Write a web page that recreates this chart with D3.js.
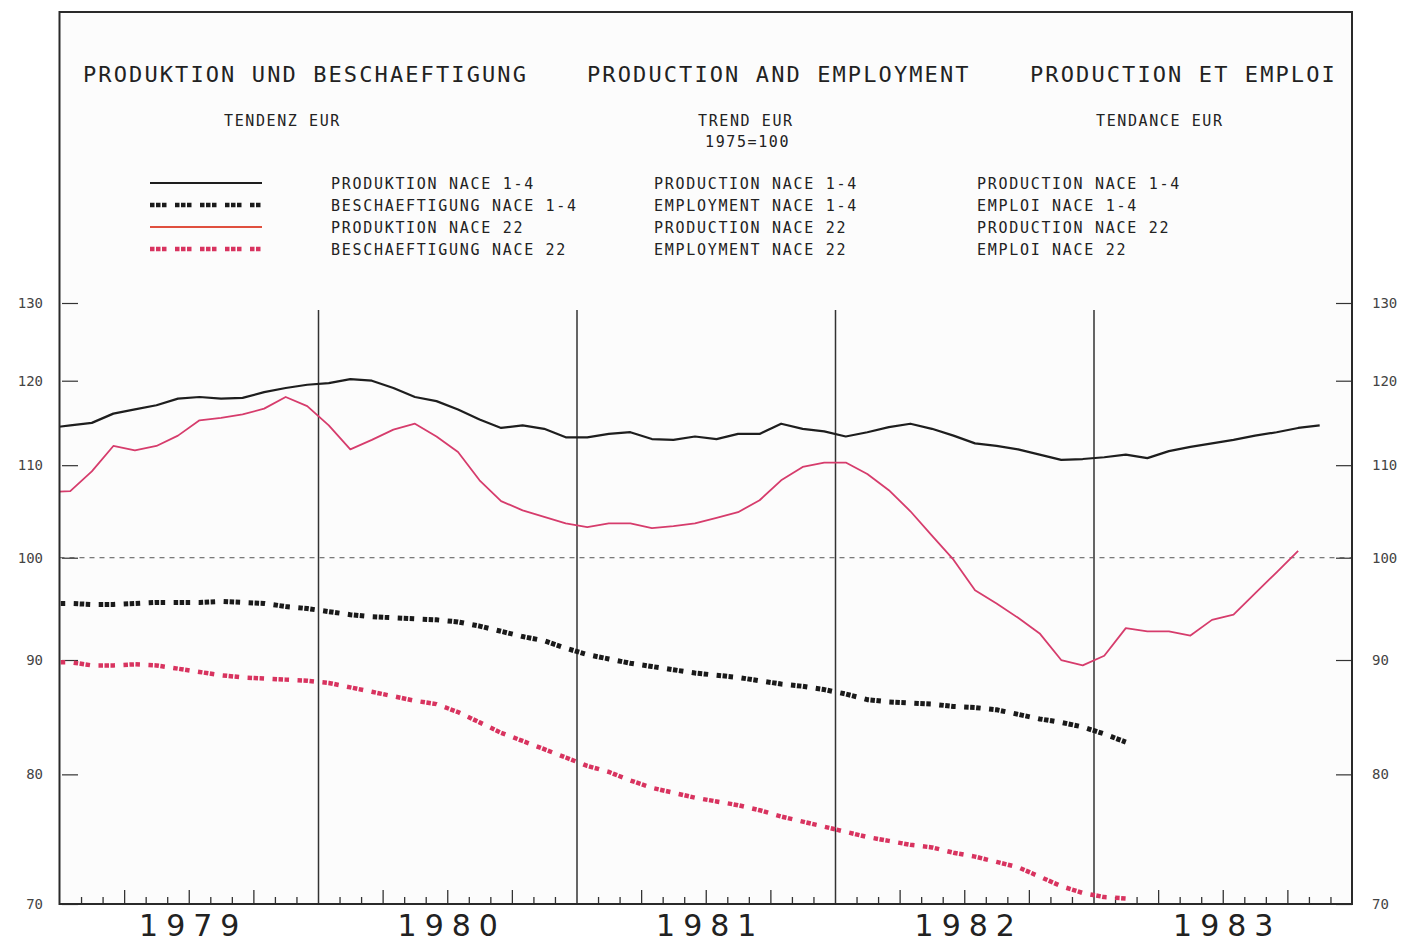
<!DOCTYPE html>
<html>
<head>
<meta charset="utf-8">
<script src="https://cdn.jsdelivr.net/npm/d3@7/dist/d3.min.js"></script>
<style>
  body { margin: 0; background: #fff; }
  svg text { font-family: "DejaVu Sans Mono", monospace; fill: #222; }
</style>
</head>
<body>
<svg id="chart" width="1403" height="946"></svg>
<script>
// monthly values, first entry = Dec 1978 (starts at the frame edge)
var years = ["1979", "1980", "1981", "1982", "1983"];
var yTicks = [70, 80, 90, 100, 110, 120, 130];

var prod14 = [114.3,
  114.6, 114.9, 116.0, 116.5, 117.0, 117.8, 118.0, 117.8, 117.9, 118.6, 119.1, 119.5,
  119.7, 120.2, 120.0, 119.1, 118.0, 117.5, 116.5, 115.3, 114.3, 114.6, 114.2, 113.2,
  113.2, 113.6, 113.8, 113.0, 112.9, 113.3, 113.0, 113.6, 113.6, 114.8, 114.2, 113.9,
  113.3, 113.8, 114.4, 114.8, 114.2, 113.4, 112.5, 112.2, 111.8, 111.2, 110.6, 110.7,
  110.9, 111.2, 110.8, 111.6, 112.1, 112.5, 112.9, 113.4, 113.8, 114.3, 114.6];

var empl14 = [95.4,
  95.4, 95.3, 95.3, 95.4, 95.5, 95.5, 95.5, 95.6, 95.5, 95.4, 95.1, 94.9,
  94.6, 94.3, 94.1, 94.0, 93.9, 93.8, 93.6, 93.2, 92.7, 92.2, 91.8, 91.1,
  90.5, 90.1, 89.7, 89.4, 89.1, 88.8, 88.6, 88.4, 88.1, 87.8, 87.6, 87.3,
  86.9, 86.4, 86.2, 86.1, 86.0, 85.8, 85.7, 85.5, 85.1, 84.7, 84.4, 84.0,
  83.4, 82.7];

var prod22 = [107.0,
  107.1, 109.3, 112.2, 111.7, 112.2, 113.4, 115.2, 115.5, 115.9, 116.6, 118.0, 116.9,
  114.6, 111.8, 112.9, 114.1, 114.8, 113.3, 111.5, 108.3, 106.0, 105.0, 104.3, 103.6,
  103.2, 103.6, 103.6, 103.1, 103.3, 103.6, 104.2, 104.8, 106.1, 108.3, 109.8, 110.3,
  110.3, 109.0, 107.2, 104.9, 102.3, 99.8, 96.7, 95.4, 94.0, 92.5, 90.0, 89.5,
  90.4, 93.0, 92.7, 92.7, 92.3, 93.8, 94.3, 96.4, 98.5, 100.7];

var empl22 = [89.8,
  89.8, 89.5, 89.5, 89.6, 89.5, 89.2, 88.9, 88.6, 88.4, 88.3, 88.2, 88.1,
  87.9, 87.5, 87.1, 86.7, 86.3, 86.0, 85.3, 84.4, 83.5, 82.8, 82.1, 81.4,
  80.7, 80.2, 79.5, 78.9, 78.5, 78.1, 77.8, 77.5, 77.1, 76.6, 76.2, 75.8,
  75.4, 75.0, 74.7, 74.4, 74.2, 73.8, 73.5, 73.1, 72.7, 72.0, 71.3, 70.8,
  70.5, 70.4];

var legendDe = ["PRODUKTION NACE 1-4", "BESCHAEFTIGUNG NACE 1-4", "PRODUKTION NACE 22", "BESCHAEFTIGUNG NACE 22"];
var legendEn = ["PRODUCTION NACE 1-4", "EMPLOYMENT NACE 1-4", "PRODUCTION NACE 22", "EMPLOYMENT NACE 22"];
var legendFr = ["PRODUCTION NACE 1-4", "EMPLOI NACE 1-4", "PRODUCTION NACE 22", "EMPLOI NACE 22"];

(function () {
    var svg = d3.select("#chart");
    var left = 59.5, right = 1352, plotTop = 12, bottom = 904;

    var x = d3.scaleLinear().domain([0, 60]).range([left, right]);
    var y = d3.scaleLog().domain([70, 130]).range([bottom, 303]);

    var dotDash = "4.5,1.5,4.5,1.5,4.5,8.5";
    var styles = [
        {data: prod14, color: "#1e1e1e", width: 2.2, dash: null},
        {data: empl14, color: "#1a1a1a", width: 5, dash: dotDash},
        {data: prod22, color: "#d63c6c", width: 1.8, dash: null, legendColor: "#e0503e"},
        {data: empl22, color: "#d8335f", width: 4.5, dash: dotDash}
    ];

    svg.append("rect")
        .attr("x", left).attr("y", plotTop)
        .attr("width", right - left).attr("height", bottom - plotTop)
        .attr("fill", "#fcfcfc");

    svg.append("defs").append("clipPath").attr("id", "plot")
        .append("rect")
        .attr("x", left).attr("y", plotTop)
        .attr("width", right - left).attr("height", bottom - plotTop);

    // titles
    var titles = [
        {t: "PRODUKTION UND BESCHAEFTIGUNG", x: 83},
        {t: "PRODUCTION AND EMPLOYMENT", x: 587},
        {t: "PRODUCTION ET EMPLOI", x: 1030}
    ];
    svg.selectAll(".title").data(titles).enter().append("text")
        .attr("x", function (d) { return d.x; })
        .attr("y", 82)
        .style("font-size", "22px")
        .style("letter-spacing", "2.1px")
        .text(function (d) { return d.t; });

    var subs = [
        {t: "TENDENZ EUR", x: 224, y: 126},
        {t: "TREND EUR", x: 698, y: 126},
        {t: "1975=100", x: 705, y: 147},
        {t: "TENDANCE EUR", x: 1096, y: 126}
    ];
    svg.selectAll(".sub").data(subs).enter().append("text")
        .attr("x", function (d) { return d.x; })
        .attr("y", function (d) { return d.y; })
        .style("font-size", "15px")
        .style("letter-spacing", "1.6px")
        .text(function (d) { return d.t; });

    // legend
    var legendY = [183, 205, 227, 249];
    var swatch = d3.line().x(function (d) { return d; }).y(0);
    styles.forEach(function (s, i) {
        svg.append("path")
            .attr("transform", "translate(0," + legendY[i] + ")")
            .attr("d", swatch([150, 262]))
            .attr("fill", "none")
            .attr("stroke", s.legendColor || s.color)
            .attr("stroke-width", s.dash ? 4.5 : 2)
            .attr("stroke-dasharray", s.dash);
    });
    [[legendDe, 331], [legendEn, 654], [legendFr, 977]].forEach(function (col) {
        svg.selectAll(null).data(col[0]).enter().append("text")
            .attr("x", col[1])
            .attr("y", function (d, i) { return legendY[i] + 6; })
            .style("font-size", "15px")
            .style("letter-spacing", "1.7px")
            .text(function (d) { return d; });
    });

    // month ticks on the bottom line, quarters longer, years run up the plot
    var months = d3.range(1, 60);
    function ticksUp(values, size) {
        var g = svg.append("g")
            .attr("transform", "translate(0," + bottom + ")")
            .call(d3.axisTop(x).tickValues(values).tickSize(size).tickFormat(""));
        g.select(".domain").remove();
        g.selectAll("line").attr("stroke", "#333").attr("stroke-width", 1.3);
        return g;
    }
    ticksUp(months.filter(function (m) { return m % 3 !== 0; }), 7);
    ticksUp(months.filter(function (m) { return m % 3 === 0 && m % 12 !== 0; }), 14);
    ticksUp(months.filter(function (m) { return m % 12 === 0; }), bottom - 310)
        .selectAll("line").attr("stroke-width", 1.5);

    var yearAxis = svg.append("g")
        .attr("transform", "translate(0," + bottom + ")")
        .call(d3.axisBottom(x).tickValues([6, 18, 30, 42, 54]).tickSize(0).tickPadding(11)
            .tickFormat(function (d, i) { return years[i]; }));
    yearAxis.select(".domain").remove();
    yearAxis.selectAll("text")
        .attr("dx", 4)
        .style("font-family", "'DejaVu Sans', sans-serif")
        .style("font-size", "30px")
        .style("letter-spacing", "8px")
        .style("fill", "#222");

    // y axes on both sides
    var yl = svg.append("g").attr("transform", "translate(78,0)")
        .call(d3.axisLeft(y).tickValues(yTicks).tickSize(16).tickPadding(19).tickFormat(d3.format("d")));
    var yr = svg.append("g").attr("transform", "translate(1336,0)")
        .call(d3.axisRight(y).tickValues(yTicks).tickSize(16).tickPadding(20).tickFormat(d3.format("d")));
    [yl, yr].forEach(function (g) {
        g.select(".domain").remove();
        g.selectAll("line").attr("stroke", "#333").attr("stroke-width", 1.2);
        g.selectAll("text")
            .style("font-family", "'DejaVu Sans Mono', monospace")
            .style("font-size", "14px")
            .style("fill", "#444");
    });

    // 100 reference line
    svg.append("line")
        .attr("x1", left).attr("x2", right)
        .attr("y1", y(100)).attr("y2", y(100))
        .attr("stroke", "#555").attr("stroke-width", 1)
        .attr("stroke-dasharray", "5,5");

    // series
    var line = d3.line()
        .x(function (d, i) { return x(i - 0.5); })
        .y(function (d) { return y(d); });

    var series = svg.append("g").attr("clip-path", "url(#plot)");
    styles.forEach(function (s) {
        series.append("path")
            .datum(s.data)
            .attr("d", line)
            .attr("fill", "none")
            .attr("stroke", s.color)
            .attr("stroke-width", s.width)
            .attr("stroke-linejoin", "round")
            .attr("stroke-dasharray", s.dash);
    });

    // frame
    svg.append("rect")
        .attr("x", left).attr("y", plotTop)
        .attr("width", right - left).attr("height", bottom - plotTop)
        .attr("fill", "none")
        .attr("stroke", "#2a2a2a")
        .attr("stroke-width", 2);
})();
</script>
</body>
</html>
